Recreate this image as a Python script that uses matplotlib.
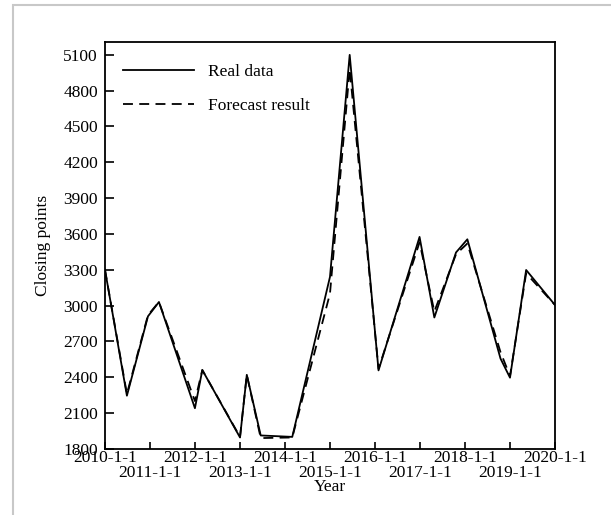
import pandas as pd
import matplotlib.pyplot as plt
import matplotlib.dates as mdates
from matplotlib.patches import Rectangle

# Data
dates = ["2010-01-01", "2010-06-28", "2010-12-16", "2011-03-15", "2012-01-01",
         "2012-03-01", "2013-01-01", "2013-02-25", "2013-06-18", "2014-03-01",
         "2015-01-01", "2015-06-10", "2016-01-30", "2016-12-28", "2017-04-27",
         "2017-10-20", "2018-01-20", "2018-10-16", "2019-01-01", "2019-05-12",
         "2020-01-01"]
real_data = [3300, 2245, 2910, 3030, 2140, 2460, 1895, 2420, 1912, 1900,
             3240, 5100, 2457, 3575, 2900, 3445, 3555, 2556, 2396, 3298, 3005]
forecast = [3300, 2260, 2920, 3030, 2200, 2460, 1900, 2420, 1890, 1895,
            3100, 4980, 2470, 3530, 2950, 3430, 3520, 2610, 2410, 3270, 3005]
tick_years = list(range(2010, 2021))
tick_labels = [f"{y}-1-1" for y in tick_years]
y_ticks = list(range(1800, 5101, 300))

df = pd.DataFrame({"date": pd.to_datetime(dates), "real": real_data, "forecast": forecast})

plt.rcParams["font.family"] = ["Liberation Serif", "DejaVu Serif"]
fs = 12.5

fig = plt.figure(figsize=(6.11, 5.15), dpi=100)
ax = fig.add_axes([0.1718, 0.1285, 0.7365, 0.7905])

# light grey page border
fig.patches.append(Rectangle((13 / 611, -0.05), 1.2, 1 - 5 / 515 + 0.05,
                             transform=fig.transFigure, fill=False,
                             edgecolor="#c8c8c8", lw=1.5))

ax.plot(df["date"], df["real"], color="black", lw=1.3, label="Real data")
ax.plot(df["date"], df["forecast"], color="black", lw=1.3,
        linestyle=(0, (5.5, 3.5)), label="Forecast result")

ax.set_xlim(pd.Timestamp("2010-01-01"), pd.Timestamp("2020-01-01"))
ax.set_ylim(1800, 5210)
ax.set_yticks(y_ticks)

tick_dates = [pd.Timestamp(f"{y}-01-01") for y in tick_years]
ax.set_xticks(mdates.date2num(tick_dates))
ax.set_xticklabels(tick_labels)

ax.tick_params(axis="both", direction="in", labelsize=fs, width=1.2,
               top=False, right=False)
ax.tick_params(axis="y", length=6.5, pad=5)
ax.tick_params(axis="x", length=5, pad=1.0)
for i, tick in enumerate(ax.xaxis.get_major_ticks()):
    if i % 2 == 1:
        tick.set_pad(11.5)

for sp in ax.spines.values():
    sp.set_linewidth(1.3)

ax.set_xlabel("Year", fontsize=fs, labelpad=-1)
ax.set_ylabel("Closing points", fontsize=fs, labelpad=9)

ax.legend(loc="upper left", bbox_to_anchor=(0.005, 0.985), frameon=False,
          fontsize=fs, handlelength=4.1, labelspacing=1.05, handletextpad=0.8)

fig.savefig("out.png", dpi=100)
